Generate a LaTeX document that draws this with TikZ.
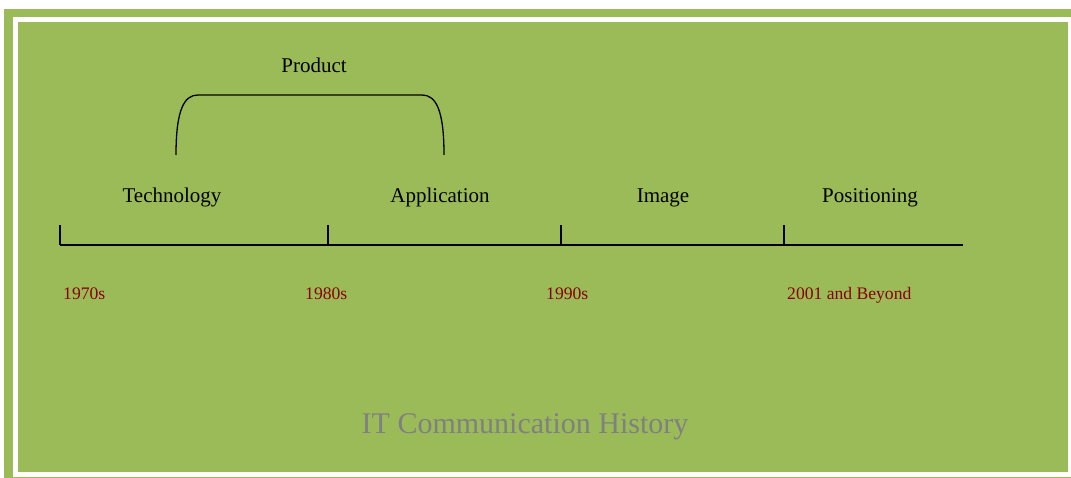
\documentclass[tikz,border=0pt]{standalone}
\usepackage{fontspec}
\setmainfont{Liberation Serif}
\definecolor{bggreen}{HTML}{9BBB59}
\definecolor{yearred}{HTML}{8B0000}
\begin{document}
\begin{tikzpicture}[
            x=1pt, y=-1pt,
            phase/.style={anchor=base, inner sep=0pt, font=\fontsize{21}{24}\selectfont},
            year/.style={anchor=base west, inner sep=0pt, text=yearred, font=\fontsize{17.6}{20}\selectfont},
            axis/.style={line width=1.5pt}
        ]
        
        % frame
        \useasboundingbox (0,0) rectangle (1071,478);
        \fill[bggreen] (4,9) rectangle (1090,490);
        \draw[white, line width=5pt] (15.5,19.5) rectangle (1070.5,474);
        
        % bracket
        \node[phase] (product) at (314,73) {Product};
        \coordinate (bl) at (176,155);
        \coordinate (br) at (444,155);
        \draw[line width=1.3pt] (bl) .. controls (176,110) and (184,95) .. (198,95)
            -- (422,95) .. controls (436,95) and (444,110) .. (br);
        
        % timeline
        \coordinate (t1) at (60,245);
        \coordinate (t2) at (328,245);
        \coordinate (t3) at (561,245);
        \coordinate (t4) at (784,245);
        \coordinate (tend) at (963,245);
        \draw[axis] (t1) -- (tend);
        \foreach \t in {t1,t2,t3,t4}
            \draw[axis] (\t) -- ++(0,-20);
        
        \node[phase] (tech) at (172,203) {Technology};
        \node[phase] (appl) at (440,203) {Application};
        \node[phase] (image) at (663,203) {Image};
        \node[phase] (posi) at (870,203) {Positioning};
        
        \node[year] (y70) at (63,300) {1970s};
        \node[year] (y80) at (305,300) {1980s};
        \node[year] (y90) at (546,300) {1990s};
        \node[year] (y01) at (787,300) {2001 and Beyond};
        
        \node[anchor=base, text=gray, font=\fontsize{30}{34}\selectfont] (title) at (525,433) {IT Communication History};
        
    \end{tikzpicture}
\end{document}
